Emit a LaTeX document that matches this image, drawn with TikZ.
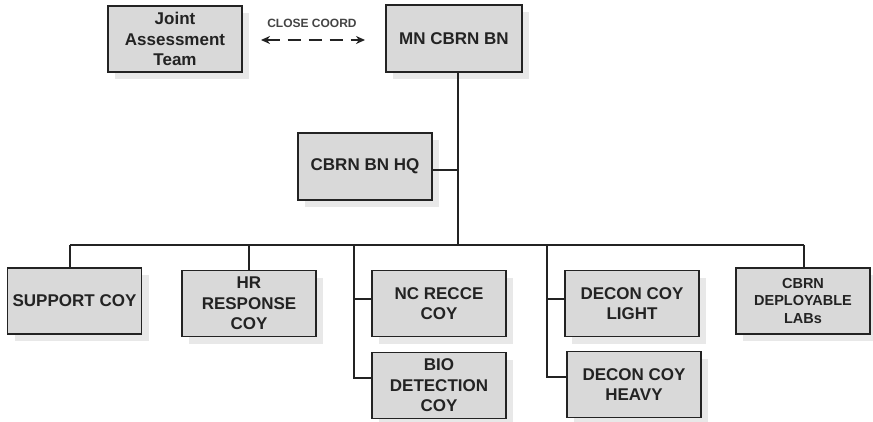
\documentclass[tikz,border=0pt]{standalone}
\usepackage{fontspec}
\setmainfont{Liberation Sans}
\usetikzlibrary{shadows,arrows.meta}
\definecolor{boxfill}{RGB}{217,217,217}
\definecolor{shadowfill}{RGB}{232,232,232}
\definecolor{edge}{RGB}{35,35,35}
\begin{document}
\begin{tikzpicture}[x=1pt,y=-1pt,
  unit/.style={draw=edge, line width=1.8pt, fill=boxfill, minimum width=134pt, minimum height=66pt,
    inner sep=0pt, align=center, text=edge, font=\bfseries\fontsize{17}{20.5}\selectfont,
    drop shadow={shadow xshift=7pt, shadow yshift=-7pt, fill=shadowfill, opacity=1}},
  smallunit/.style={unit, font=\bfseries\fontsize{14.5}{17.5}\selectfont},
  conn/.style={draw=edge, line width=1.4pt},
  coordarrow/.style={draw=edge, line width=2.6pt, dash pattern=on 13pt off 8pt, {Stealth[length=9pt,width=8pt]}-{Stealth[length=9pt,width=8pt]}}
]
\useasboundingbox (0,0) rectangle (873,422);

\node[unit] (jat) at (175,39) {Joint\\Assessment\\Team};
\node[unit, minimum width=136pt, minimum height=67pt] (mn) at (454,38.5) {MN CBRN BN};
\node[unit, minimum height=67pt] (hq) at (365,166.5) {CBRN BN HQ};
\node[unit] (sup) at (74.5,301) {SUPPORT COY};
\node[unit] (hr) at (249,303.5) {HR\\RESPONSE\\COY};
\node[unit] (nc) at (439,303.5) {NC RECCE\\COY};
\node[unit] (bio) at (439,385.5) {BIO\\DETECTION\\COY};
\node[unit] (dl) at (632,303.5) {DECON COY\\LIGHT};
\node[unit] (dh) at (634,384.5) {DECON COY\\HEAVY};
\node[smallunit] (labs) at (803,301) {CBRN\\DEPLOYABLE\\LABs};

\node[font=\bfseries\fontsize{12}{13}\selectfont, text=edge!85] (cc) at (312,23) {CLOSE COORD};
\coordinate (a1) at (261,40);
\coordinate (a2) at (365,40);
\draw[coordarrow] (a1) -- (a2);

% trunk and bus
\coordinate (trunktop) at (458,72);
\coordinate (hqj) at (458,170);
\coordinate (busj) at (458,245);
\coordinate (busl) at (70,245);
\coordinate (busr) at (804,245);
\coordinate (ncv) at (354,245);
\coordinate (dcv) at (547,245);
\draw[conn] (trunktop) -- (busj);
\draw[conn] (hq.east |- hqj) -- (hqj);
\draw[conn] (busl) -- (busr);
\draw[conn] (busl) -- (busl |- sup.north);
\draw[conn] (hr.north |- busl) -- (hr.north);
\draw[conn] (busr) -- (busr |- labs.north);
\draw[conn] (ncv) -- (354,378) -- (bio.west |- 0,378);
\draw[conn] (354,299) -- (nc.west |- 0,299);
\draw[conn] (dcv) -- (547,377) -- (dh.west |- 0,377);
\draw[conn] (547,299) -- (dl.west |- 0,299);
\end{tikzpicture}
\end{document}
